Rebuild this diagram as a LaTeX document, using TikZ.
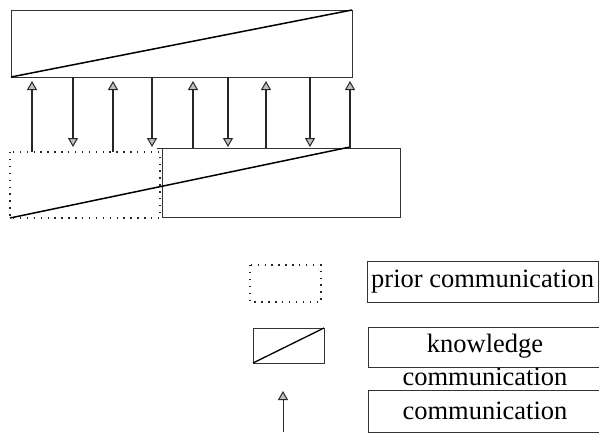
\documentclass[tikz,border=0pt]{standalone}
\usepackage{fontspec}
\setmainfont{Liberation Serif}
\usetikzlibrary{arrows.meta}
\begin{document}
\begin{tikzpicture}[x=1pt,y=-1pt,
  frame/.style={draw=black!80, line width=0.7pt},
  dotbox/.style={draw=black!85, line width=1.4pt, dash pattern=on 1.4pt off 5.5pt},
  slope/.style={draw=black, line width=1.5pt},
  msg/.style={draw=black!85, line width=1.1pt,
    -{Triangle[length=9pt,width=10pt,fill=black!25,line width=1pt]}},
  txt/.style={font=\fontsize{26.5}{30}\selectfont, inner sep=0pt},
  lbl/.style={frame, minimum width=231pt, anchor=north west, inner sep=0pt}]
\useasboundingbox (0,0) rectangle (599,434);

% upper knowledge box
\coordinate (uNW) at (11,10);
\coordinate (uSE) at (352,77);
\draw[frame] (uNW) rectangle (uSE);
\draw[slope] (uNW |- uSE) -- (uSE |- uNW);

% lower boxes: prior part (dotted) and knowledge part
\coordinate (pNW) at (10,152);
\coordinate (pSE) at (160,218);
\coordinate (kNW) at (162,148);
\coordinate (kSE) at (400,217);
\draw[dotbox] (pNW) rectangle (pSE);
\draw[frame] (157,148) -- (400,148) -- (kSE) -- (kNW |- kSE) -- (kNW);
\draw[slope] (pNW |- pSE) -- (350,147);

% communication arrows
\foreach \x/\b in {32/152, 113/152, 193/148, 266/148, 350/148} {
  \coordinate (s\x) at (\x,\b);
  \coordinate (e\x) at (\x,81);
  \draw[msg] (s\x) -- (e\x);
}
\foreach \x in {73, 152, 228, 310} {
  \coordinate (s\x) at (\x,77);
  \coordinate (e\x) at (\x,147);
  \draw[msg] (s\x) -- (e\x);
}

% legend symbols
\draw[dotbox] (250,265) rectangle (321,302);
\coordinate (lNW) at (253,328);
\coordinate (lSE) at (324,363);
\draw[frame] (lNW) rectangle (lSE);
\draw[slope, line width=1.3pt] (lNW |- lSE) -- (lSE |- lNW);
\coordinate (ls) at (283,432);
\coordinate (le) at (283,391);
\draw[msg, line width=0.7pt] (ls) -- (le);

% legend labels
\node[lbl, minimum height=41pt] (lp) at (367,261) {};
\node[txt, anchor=west] (lpt) at (371,282) {prior communication};
\node[lbl, minimum height=40pt] (lk) at (368,327) {};
\node[txt] (lkt) at (485,346) {knowledge};
\node[txt] (lk2) at (485,377) {communication};
\node[lbl, minimum height=42pt] (lc) at (368,390) {};
\node[txt] (lct) at (485,411) {communication};
\end{tikzpicture}
\end{document}
